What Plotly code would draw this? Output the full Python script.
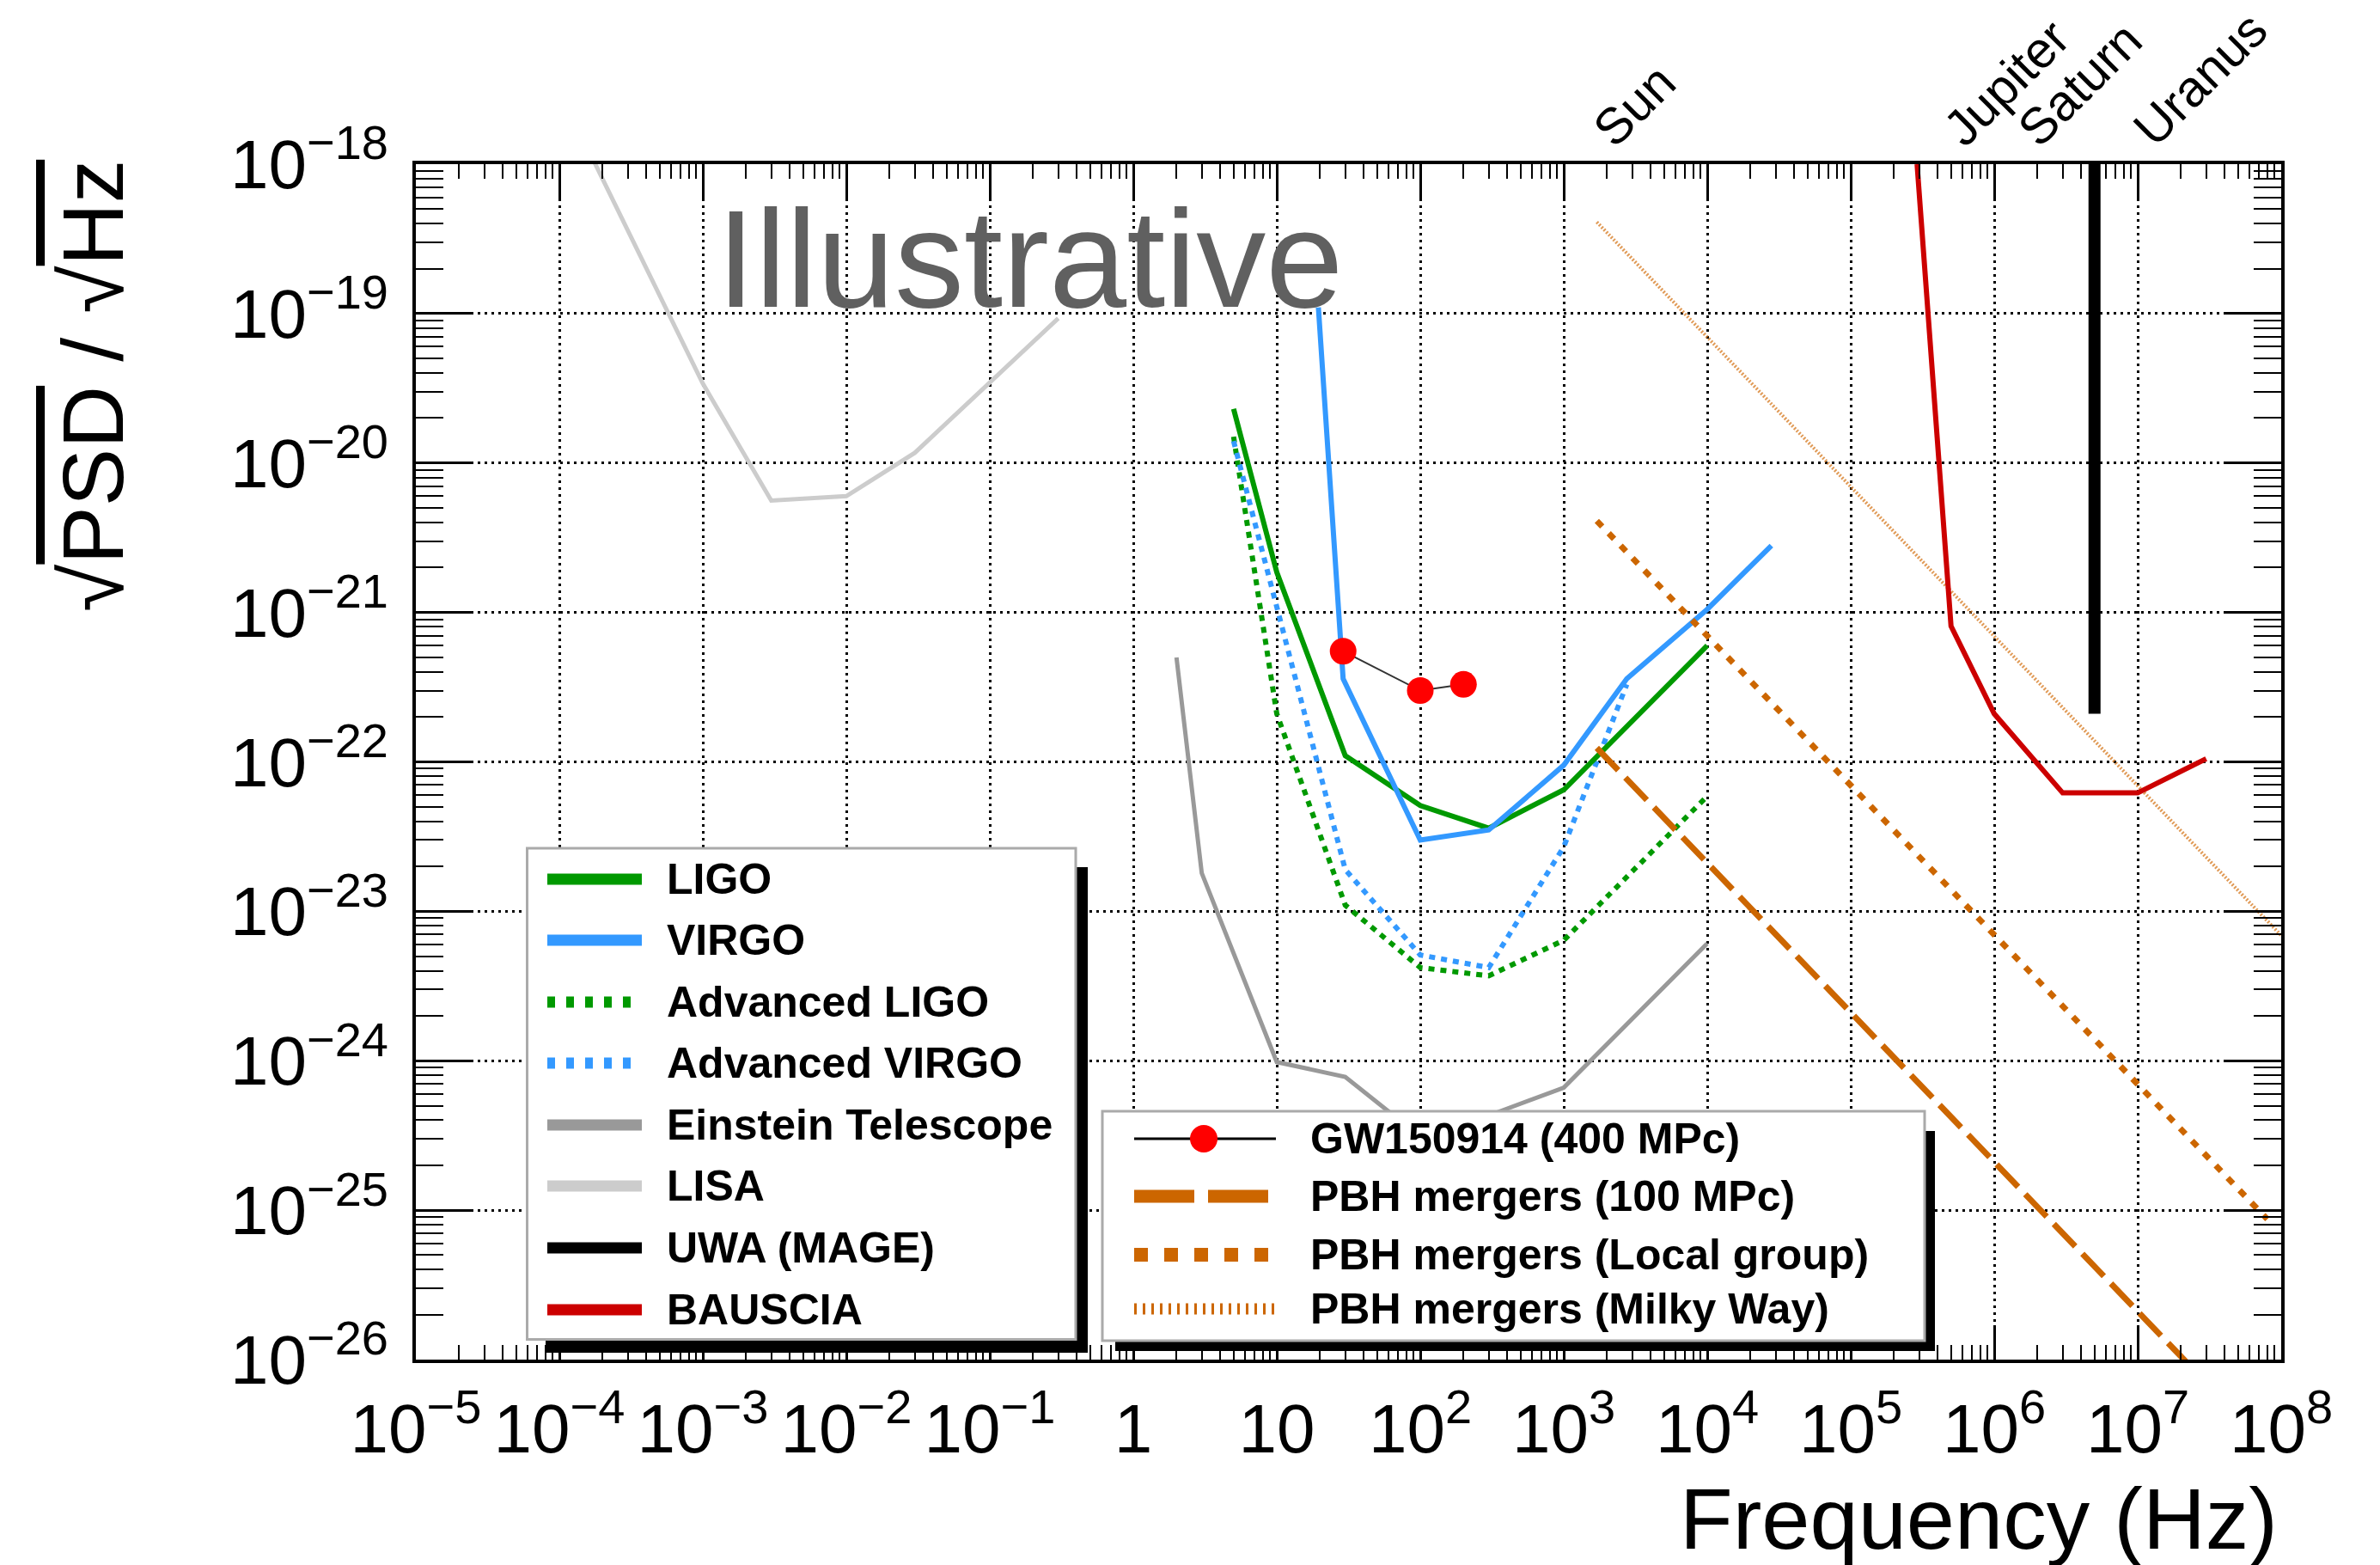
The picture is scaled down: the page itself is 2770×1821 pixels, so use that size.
import plotly.graph_objects as go

# ---------------- data ----------------
lisa_f = [1e-4, 1e-3, 3e-3, 1e-2, 3e-2, 0.3]
lisa_h = [3.1e-18, 3.4e-20, 5.6e-21, 6.0e-21, 1.17e-20, 9.3e-20]

ligo_f = [5, 10, 30, 100, 300, 1000, 1e4]
ligo_h = [2.3e-20, 1.86e-21, 1.1e-22, 5.1e-23, 3.6e-23, 6.5e-23, 6.0e-22]

virgo_f = [19.5, 29, 100, 300, 1000, 2750, 1e4, 2.8e4]
virgo_h = [1.1e-19, 3.6e-22, 3.0e-23, 3.5e-23, 9.5e-23, 3.6e-22, 1.05e-21, 2.8e-21]

aligo_f = [5, 10, 30, 100, 300, 1000, 1e4]
aligo_h = [1.5e-20, 2.1e-22, 1.1e-23, 4.2e-24, 3.7e-24, 6.4e-24, 5.9e-23]

avirgo_f = [5, 10, 30, 100, 300, 1000, 2750]
avirgo_h = [1.4e-20, 1.1e-21, 1.9e-23, 5.1e-24, 4.2e-24, 2.7e-23, 3.3e-22]

et_f = [2, 3, 10, 30, 100, 300, 1000, 1e4]
et_h = [5.0e-22, 1.8e-23, 9.8e-25, 7.8e-25, 3.1e-25, 4.3e-25, 6.6e-25, 6.1e-24]

uwa_f = [5e6, 5e6]
uwa_h = [2.1e-22, 1e-18]

bauscia_f = [2.9e5, 5e5, 1e6, 3e6, 1e7, 3e7]
bauscia_h = [1e-18, 8.1e-22, 2.1e-22, 6.2e-23, 6.2e-23, 1.05e-22]

gw_f = [29, 100, 200]
gw_h = [5.5e-22, 3.0e-22, 3.3e-22]

pbh100_f = [1.7e3, 1e8]
pbh100_h = [1.24e-22, 2.1e-27]
pbhlocal_f = [1.7e3, 8e7]
pbhlocal_h = [4.1e-21, 8.7e-26]
pbhmw_f = [1.7e3, 1e8]
pbhmw_h = [4.1e-19, 6.9e-24]

# tick decades (exponents) shown on the axes
x_tick_exp = list(range(-5, 9))
y_tick_exp = list(range(-26, -17))

planet_labels = ["Sun", "Jupiter", "Saturn", "Uranus"]

legend1_names = ["LIGO", "VIRGO", "Advanced LIGO", "Advanced VIRGO",
                 "Einstein Telescope", "LISA", "UWA (MAGE)", "BAUSCIA"]
legend2_names = ["GW150914 (400 MPc)", "PBH mergers (100 MPc)",
                 "PBH mergers (Local group)", "PBH mergers (Milky Way)"]

# ---------------- styles ----------------
GREEN = "#009900"
BLUE = "#3399ff"
ORANGE = "#cc6600"
RED = "#cc0000"
ET_GRAY = "#999999"
LISA_GRAY = "#cccccc"
FONT = "Liberation Sans, Arial, Helvetica, sans-serif"
SUP_PX = 56

W_FIG, H_FIG = 2770, 1821
L, R, T, B = 484, 2655, 191, 1582
PW, PH = R - L, B - T


def px(X):
    return (X - L) / PW


def py(Y):
    return (B - Y) / PH


def pow_label(p):
    if p == 0:
        return "1"
    if p == 1:
        return "10"
    s = ("−%d" % -p) if p < 0 else str(p)
    return '10<sup><span style="font-size:%dpx">%s</span></sup>' % (SUP_PX, s)


fig = go.Figure()


def add_line(f, h, color, width, dash="solid", name=""):
    fig.add_trace(go.Scatter(x=f, y=h, mode="lines", name=name, showlegend=False,
                             line=dict(color=color, width=width, dash=dash)))


add_line(lisa_f, lisa_h, LISA_GRAY, 5, name="LISA")
add_line(et_f, et_h, ET_GRAY, 5, name="Einstein Telescope")
add_line(aligo_f, aligo_h, GREEN, 6, "7px,7px", "Advanced LIGO")
add_line(avirgo_f, avirgo_h, BLUE, 6, "7px,7px", "Advanced VIRGO")
add_line(ligo_f, ligo_h, GREEN, 6, name="LIGO")
add_line(virgo_f, virgo_h, BLUE, 6, name="VIRGO")
add_line(pbhmw_f, pbhmw_h, "rgba(214,120,30,0.75)", 4, "2px,2px", "PBH mergers (Milky Way)")
add_line(pbhlocal_f, pbhlocal_h, ORANGE, 7, "9px,11px", "PBH mergers (Local group)")
add_line(pbh100_f, pbh100_h, ORANGE, 7, "36px,12px", "PBH mergers (100 MPc)")
add_line(bauscia_f, bauscia_h, RED, 6, name="BAUSCIA")
add_line(uwa_f, uwa_h, "black", 14, name="UWA (MAGE)")
fig.add_trace(go.Scatter(x=gw_f, y=gw_h, mode="lines+markers", showlegend=False,
                         name="GW150914 (400 MPc)",
                         line=dict(color="#333333", width=2),
                         marker=dict(color="red", size=31, line=dict(width=0))))

axis_common = dict(
    type="log", tickmode="array", showline=True, linecolor="black",
    linewidth=4, mirror="allticks", ticks="inside", tickcolor="black", tickwidth=3,
    showgrid=True, gridcolor="black", gridwidth=2.5, griddash="3px,5px",
    zeroline=False, automargin=False, tickangle=0,
    tickfont=dict(family=FONT, size=80, color="black"),
)

fig.update_xaxes(range=[-5, 8], ticklen=40, ticklabelstandoff=8,
                 tickvals=[10.0 ** p for p in x_tick_exp],
                 ticktext=[pow_label(p) for p in x_tick_exp],
                 minor=dict(ticks="inside", ticklen=17, tickwidth=2, tickcolor="black",
                            dtick="D1", showgrid=False),
                 **axis_common)
fig.update_yaxes(range=[-26, -18], ticklen=66, ticklabelstandoff=12,
                 tickvals=[10.0 ** p for p in y_tick_exp],
                 ticktext=[pow_label(p) for p in y_tick_exp],
                 minor=dict(ticks="inside", ticklen=32, tickwidth=2, tickcolor="black",
                            dtick="D1", showgrid=False),
                 **axis_common)

shapes = []
annotations = []

# ---- legend 1 ----
shapes.append(dict(type="rect", xref="paper", yref="paper", layer="above",
                   x0=px(1252), x1=px(1266), y0=py(1574), y1=py(1009),
                   fillcolor="black", line=dict(width=0)))
shapes.append(dict(type="rect", xref="paper", yref="paper", layer="above",
                   x0=px(635), x1=px(1266), y0=py(1574), y1=py(1558),
                   fillcolor="black", line=dict(width=0)))
shapes.append(dict(type="rect", xref="paper", yref="paper", layer="above",
                   x0=px(613.5), x1=px(1252), y0=py(1558.5), y1=py(987),
                   fillcolor="white", line=dict(color="#aaaaaa", width=3)))
leg1_y = [1023, 1094, 1166, 1237, 1309, 1380, 1452, 1524]
leg1_style = [(GREEN, "solid"), (BLUE, "solid"), (GREEN, "9px,13px"), (BLUE, "9px,13px"),
              (ET_GRAY, "solid"), (LISA_GRAY, "solid"), ("black", "solid"), (RED, "solid")]
for name, yy, (col, dsh) in zip(legend1_names, leg1_y, leg1_style):
    shapes.append(dict(type="line", xref="paper", yref="paper", layer="above",
                       x0=px(637), x1=px(747), y0=py(yy), y1=py(yy),
                       line=dict(color=col, width=13, dash=dsh)))
    annotations.append(dict(x=px(774), y=py(yy), xref="paper", yref="paper",
                            xanchor="left", yanchor="middle", showarrow=False,
                            text="<b>%s</b>" % name,
                            font=dict(family=FONT, size=50, color="black")))

# ---- legend 2 ----
shapes.append(dict(type="rect", xref="paper", yref="paper", layer="above",
                   x0=px(2240), x1=px(2252), y0=py(1572), y1=py(1316),
                   fillcolor="black", line=dict(width=0)))
shapes.append(dict(type="rect", xref="paper", yref="paper", layer="above",
                   x0=px(1298), x1=px(2252), y0=py(1572), y1=py(1560),
                   fillcolor="black", line=dict(width=0)))
shapes.append(dict(type="rect", xref="paper", yref="paper", layer="above",
                   x0=px(1283), x1=px(2240), y0=py(1560), y1=py(1293),
                   fillcolor="white", line=dict(color="#aaaaaa", width=3)))
leg2_y = [1325, 1392, 1460, 1523]
shapes.append(dict(type="line", xref="paper", yref="paper", layer="above",
                   x0=px(1320), x1=px(1485), y0=py(leg2_y[0]), y1=py(leg2_y[0]),
                   line=dict(color="black", width=3)))
shapes.append(dict(type="circle", xref="paper", yref="paper", layer="above",
                   x0=px(1385), x1=px(1417), y0=py(leg2_y[0] + 16), y1=py(leg2_y[0] - 16),
                   fillcolor="red", line=dict(width=0)))
shapes.append(dict(type="line", xref="paper", yref="paper", layer="above",
                   x0=px(1320), x1=px(1480), y0=py(leg2_y[1]), y1=py(leg2_y[1]),
                   line=dict(color=ORANGE, width=15, dash="70px,16px")))
shapes.append(dict(type="line", xref="paper", yref="paper", layer="above",
                   x0=px(1320), x1=px(1487), y0=py(leg2_y[2]), y1=py(leg2_y[2]),
                   line=dict(color=ORANGE, width=16, dash="16px,19px")))
shapes.append(dict(type="line", xref="paper", yref="paper", layer="above",
                   x0=px(1320), x1=px(1487), y0=py(leg2_y[3]), y1=py(leg2_y[3]),
                   line=dict(color=ORANGE, width=13, dash="3px,7px")))
for name, yy in zip(legend2_names, leg2_y):
    annotations.append(dict(x=px(1523), y=py(yy), xref="paper", yref="paper",
                            xanchor="left", yanchor="middle", showarrow=False,
                            text="<b>%s</b>" % name,
                            font=dict(family=FONT, size=50, color="black")))

# ---- planet labels ----
planet_centers = [(1902, 123), (2335, 97), (2421, 98), (2561, 92)]
for lab, (cx, cy) in zip(planet_labels, planet_centers):
    annotations.append(dict(x=px(cx), y=py(cy), xref="paper", yref="paper",
                            xanchor="center", yanchor="middle", showarrow=False,
                            text=lab, textangle=-45,
                            font=dict(family=FONT, size=59, color="black")))

# ---- "Illustrative" ----
annotations.append(dict(x=px(832), y=py(300), xref="paper", yref="paper",
                        xanchor="left", yanchor="middle", showarrow=False,
                        text="Illustrative",
                        font=dict(family=FONT, size=162, color="#606060")))

# ---- axis titles ----
annotations.append(dict(x=px(2653), y=py(1767), xref="paper", yref="paper",
                        xanchor="right", yanchor="middle", showarrow=False,
                        text="Frequency (Hz)",
                        font=dict(family=FONT, size=101, color="black")))
annotations.append(dict(x=px(108), y=py(449), xref="paper", yref="paper",
                        xanchor="center", yanchor="middle", showarrow=False,
                        textangle=-90,
                        text='√<span style="text-decoration:overline">PSD</span> / '
                             '√<span style="text-decoration:overline">Hz</span>',
                        font=dict(family=FONT, size=101, color="black")))

fig.update_layout(
    width=W_FIG, height=H_FIG, template="none",
    margin=dict(l=L, r=W_FIG - R, t=T, b=H_FIG - B, pad=0),
    paper_bgcolor="white", plot_bgcolor="white",
    showlegend=False, shapes=shapes, annotations=annotations,
)

fig.write_html("out.html")
